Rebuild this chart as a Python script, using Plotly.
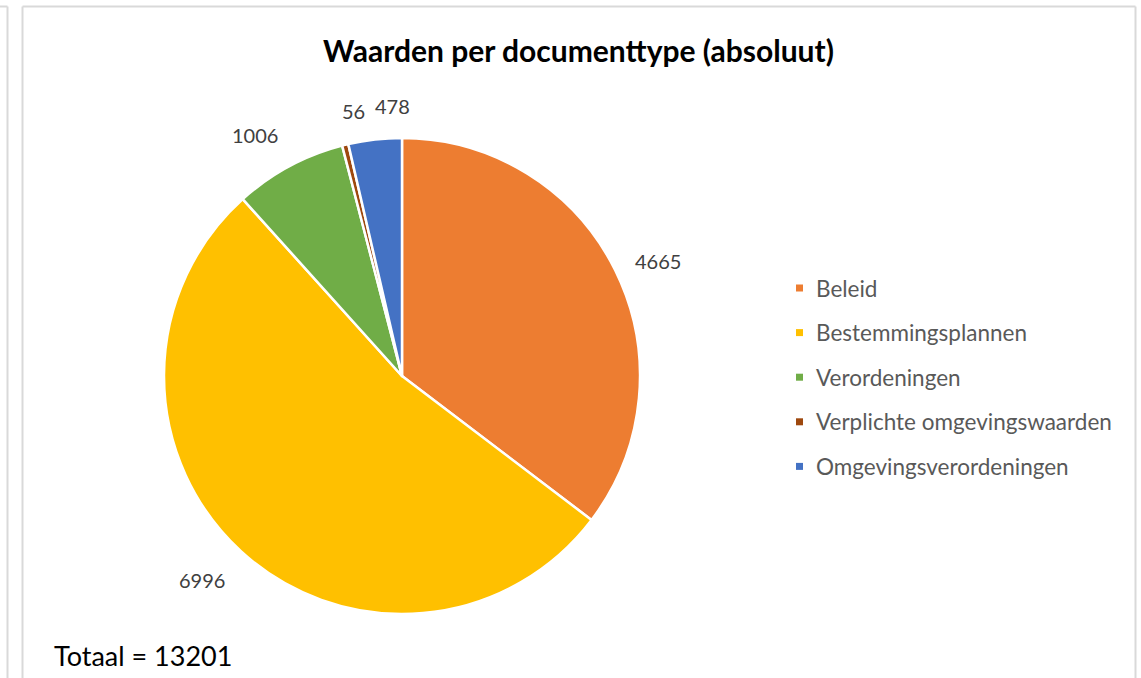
import math
import plotly.graph_objects as go

categories = ["Beleid", "Bestemmingsplannen", "Verordeningen",
              "Verplichte omgevingswaarden", "Omgevingsverordeningen"]
values = [4665, 6996, 1006, 56, 478]
colors = ["#ED7D31", "#FFC000", "#70AD47", "#9E480E", "#4472C4"]
title_text = "Waarden per documenttype (absoluut)"
total_text = "Totaal = 13201"

W, H = 1141, 678
CX, CY, R = 402, 376, 238
FONT = "Lato"


def px(x):
    return x / W


def py(y):
    return 1 - y / H


fig = go.Figure()
fig.add_trace(go.Pie(
    labels=categories, values=values, sort=False, direction="clockwise",
    rotation=0, textinfo="none", hoverinfo="label+value",
    marker=dict(colors=colors, line=dict(color="white", width=2.5)),
    domain=dict(x=[px(CX - R), px(CX + R)], y=[py(CY + R), py(CY - R)]),
    showlegend=False,
))

annotations = []
total = sum(values)
cum = 0
for v in values:
    mid = (cum + v / 2) / total * 2 * math.pi
    cum += v
    s, c = math.sin(mid), math.cos(mid)
    r = R + 20
    x = CX + r * s
    y = CY - r * c
    xa = "right" if s < -0.3 else "left"
    ya = "bottom" if c > 0.5 else ("top" if c < -0.5 else "middle")
    annotations.append(dict(
        x=px(x), y=py(y), xref="paper", yref="paper", text=str(v),
        showarrow=False, xanchor=xa, yanchor=ya,
        font=dict(family=FONT, size=20, color="#404040")))

# legend
shapes = []
leg_y0, leg_dy = 288, 44.6
for i, (cat, col) in enumerate(zip(categories, colors)):
    yc = leg_y0 + i * leg_dy
    shapes.append(dict(type="rect", xref="paper", yref="paper",
                       x0=px(796), x1=px(803), y0=py(yc - 3.5), y1=py(yc + 3.5),
                       fillcolor=col, line=dict(width=0)))
    annotations.append(dict(
        x=px(814), y=py(yc), xref="paper", yref="paper", text=cat,
        showarrow=False, xanchor="left", yanchor="middle",
        font=dict(family=FONT, size=22.5, color="#595959")))

annotations.append(dict(
    x=px(578), y=py(50), xref="paper", yref="paper", text="<b>" + title_text + "</b>",
    showarrow=False, xanchor="center", yanchor="middle",
    font=dict(family=FONT, size=30, color="#000000")))
annotations.append(dict(
    x=px(52), y=py(655), xref="paper", yref="paper", text=total_text,
    showarrow=False, xanchor="left", yanchor="middle",
    font=dict(family=FONT, size=27, color="#000000")))

# frame lines
frame_col = "#d9d9d9"
shapes += [
    dict(type="line", xref="paper", yref="paper", x0=0, x1=px(7.5), y0=py(6.5), y1=py(6.5),
         line=dict(color=frame_col, width=2)),
    dict(type="line", xref="paper", yref="paper", x0=px(7.5), x1=px(7.5), y0=py(6.5), y1=py(690),
         line=dict(color=frame_col, width=2)),
    dict(type="line", xref="paper", yref="paper", x0=px(22.5), x1=px(22.5), y0=py(6.5), y1=py(690),
         line=dict(color=frame_col, width=2)),
    dict(type="line", xref="paper", yref="paper", x0=px(22.5), x1=px(1135.5), y0=py(6.5), y1=py(6.5),
         line=dict(color=frame_col, width=2)),
    dict(type="line", xref="paper", yref="paper", x0=px(1135.5), x1=px(1135.5), y0=py(6.5), y1=py(690),
         line=dict(color=frame_col, width=2)),
]

fig.update_layout(
    width=W, height=H, margin=dict(l=0, r=0, t=0, b=0),
    paper_bgcolor="white", plot_bgcolor="white",
    annotations=annotations, shapes=shapes, showlegend=False,
)
fig.write_html("out.html", config={"displayModeBar": False},
               post_script="document.body.style.margin='0px';")
